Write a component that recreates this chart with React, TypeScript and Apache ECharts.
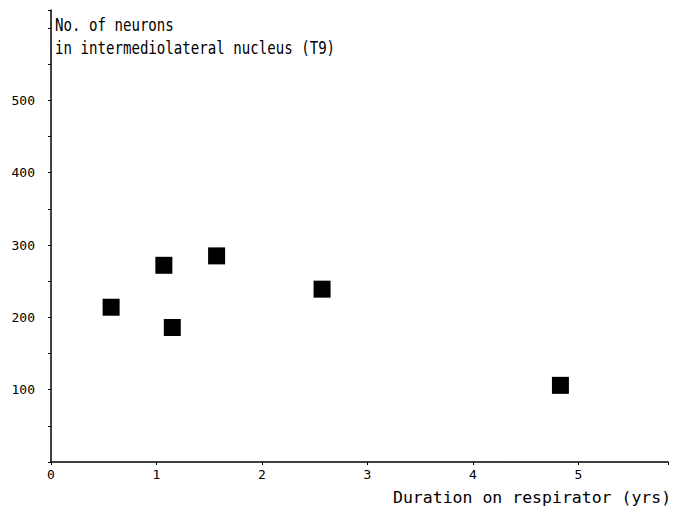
import React, { useEffect, useRef } from "react";
import * as echarts from "echarts";

const durationYrs = [0.57, 1.07, 1.15, 1.57, 2.57, 4.83];
const neuronCounts = [214, 272, 186, 285, 239, 106];
const yTickLabels = [100, 200, 300, 400, 500];
const yTitle = ["No. of neurons", "in intermediolateral nucleus (T9)"];
const xTitle = "Duration on respirator (yrs)";

const FONT = "'DejaVu Sans Mono', monospace";

export default function App() {
  const ref = useRef<HTMLDivElement>(null);
  useEffect(() => {
    if (!ref.current) return;
    document.body.style.margin = "0";
    document.body.style.overflow = "hidden";
    const chart = echarts.init(ref.current, undefined, { renderer: "svg" });
    chart.setOption({
      animation: false,
      backgroundColor: "#ffffff",
      grid: { left: 51, top: 10, width: 617, height: 452, containLabel: false },
      xAxis: {
        type: "value",
        min: 0,
        max: 5.85,
        interval: 1,
        axisLine: { show: true, lineStyle: { color: "#000", width: 1.5 } },
        axisTick: { show: true, length: 3, lineStyle: { color: "#000" } },
        splitLine: { show: false },
        axisLabel: {
          color: "#000",
          fontFamily: FONT,
          fontSize: 13,
          margin: 6,
          formatter: (v: number) => (Math.abs(v - Math.round(v)) < 1e-6 ? String(Math.round(v)) : ""),
        },
      },
      yAxis: {
        type: "value",
        min: 0,
        max: 625,
        interval: 50,
        axisLine: { show: true, lineStyle: { color: "#000", width: 1.5 } },
        axisTick: { show: true, length: 3, lineStyle: { color: "#000" } },
        splitLine: { show: false },
        axisLabel: {
          color: "#000",
          fontFamily: FONT,
          fontSize: 13,
          margin: 16,
          formatter: (v: number) => (yTickLabels.indexOf(v) >= 0 ? String(v) : ""),
        },
      },
      graphic: [
        {
          type: "text",
          x: 55,
          y: 14,
          scaleX: 0.83,
          style: {
            text: yTitle.join("\n"),
            font: `17px ${FONT}`,
            fill: "#000",
            lineHeight: 23,
            verticalAlign: "top",
          },
        },
        {
          type: "text",
          x: 393,
          y: 497,
          style: {
            text: xTitle,
            font: `16.5px ${FONT}`,
            fill: "#000",
            verticalAlign: "middle",
          },
        },
      ],
      series: [
        {
          type: "scatter",
          symbol: "rect",
          symbolSize: 17,
          itemStyle: { color: "#000", opacity: 1 },
          data: durationYrs.map((x, i) => [x, neuronCounts[i]]),
        },
      ],
    });
    return () => chart.dispose();
  }, []);
  return (
    <div
      ref={ref}
      style={{ position: "absolute", left: 0, top: 0, width: 673, height: 512 }}
    />
  );
}
